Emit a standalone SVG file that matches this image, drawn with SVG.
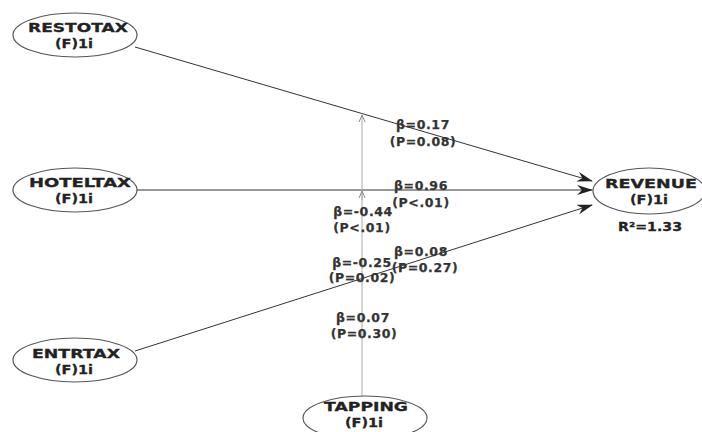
<svg xmlns="http://www.w3.org/2000/svg" width="702" height="432" viewBox="0 0 702 432">
<defs>
<marker id="big" markerWidth="16" markerHeight="10" refX="15" refY="5" orient="auto" markerUnits="userSpaceOnUse"><path d="M0,0 L16,5 L0,10 L5,5 Z" fill="#222"/></marker>
<marker id="small" markerWidth="8" markerHeight="8" refX="7" refY="4" orient="auto" markerUnits="userSpaceOnUse"><path d="M0,1 L7,4 L0,7" fill="none" stroke="#888" stroke-width="1"/></marker>
</defs>
<style>
.node ellipse{fill:#fff;stroke:#555;stroke-width:1.2}
.nt{font-family:"DejaVu Sans","Liberation Sans",sans-serif;font-weight:bold;font-size:13px;fill:#222;stroke:#222;stroke-width:0.3;text-anchor:middle}
.lb{font-family:"DejaVu Sans","Liberation Sans",sans-serif;font-weight:bold;font-size:12.5px;fill:#333;stroke:#333;stroke-width:0.25;text-anchor:middle;letter-spacing:0.6px}
.c{stroke:#333;stroke-width:1;fill:none}
.m{stroke:#aaa;stroke-width:1;fill:none}
</style>
<rect width="702" height="432" fill="#fff"/>
<g id="connectors">
<line class="c" x1="135" y1="47" x2="592" y2="181" marker-end="url(#big)"/>
<line class="c" x1="137" y1="190" x2="592" y2="190" marker-end="url(#big)"/>
<line class="c" x1="135" y1="351" x2="592" y2="205" marker-end="url(#big)"/>
<line class="m" x1="362" y1="396" x2="362" y2="115" marker-end="url(#small)"/>
<line class="m" x1="362" y1="200" x2="362" y2="191" marker-end="url(#small)"/>
</g>
<g id="labels">
<text class="lb" x="423" y="129">β=0.17</text>
<text class="lb" x="423" y="146">(P=0.08)</text>
<text class="lb" x="421" y="190">β=0.96</text>
<text class="lb" x="421" y="207">(P&lt;.01)</text>
<text class="lb" x="363" y="216">β=-0.44</text>
<text class="lb" x="362" y="232">(P&lt;.01)</text>
<text class="lb" x="421" y="256">β=0.08</text>
<text class="lb" x="425" y="272">(P=0.27)</text>
<text class="lb" x="362" y="267">β=-0.25</text>
<text class="lb" x="362" y="282">(P=0.02)</text>
<text class="lb" x="363" y="322">β=0.07</text>
<text class="lb" x="364" y="338">(P=0.30)</text>
</g>
<g id="RESTOTAX" class="node">
<ellipse cx="75" cy="35" rx="62" ry="22"/>
<text class="nt" x="78" y="32" textLength="100" lengthAdjust="spacingAndGlyphs">RESTOTAX</text>
<text class="nt" x="74" y="48" textLength="38" lengthAdjust="spacingAndGlyphs">(F)1i</text>
</g>
<g id="HOTELTAX" class="node">
<ellipse cx="75" cy="190" rx="62" ry="22"/>
<text class="nt" x="80" y="187" textLength="102" lengthAdjust="spacingAndGlyphs">HOTELTAX</text>
<text class="nt" x="74" y="203" textLength="38" lengthAdjust="spacingAndGlyphs">(F)1i</text>
</g>
<g id="ENTRTAX" class="node">
<ellipse cx="75" cy="360" rx="62" ry="22"/>
<text class="nt" x="76" y="358" textLength="88" lengthAdjust="spacingAndGlyphs">ENTRTAX</text>
<text class="nt" x="74" y="374" textLength="38" lengthAdjust="spacingAndGlyphs">(F)1i</text>
</g>
<g id="TAPPING" class="node">
<ellipse cx="365" cy="418" rx="62" ry="22"/>
<text class="nt" x="366" y="411" textLength="84" lengthAdjust="spacingAndGlyphs">TAPPING</text>
<text class="nt" x="364" y="427" textLength="38" lengthAdjust="spacingAndGlyphs">(F)1i</text>
</g>
<g id="REVENUE" class="node">
<ellipse cx="649" cy="191" rx="56" ry="23"/>
<text class="nt" x="651" y="188" textLength="92" lengthAdjust="spacingAndGlyphs">REVENUE</text>
<text class="nt" x="649" y="204" textLength="38" lengthAdjust="spacingAndGlyphs">(F)1i</text>
<text class="nt" x="650" y="231" textLength="64" lengthAdjust="spacingAndGlyphs">R²=1.33</text>
</g>
</svg>
